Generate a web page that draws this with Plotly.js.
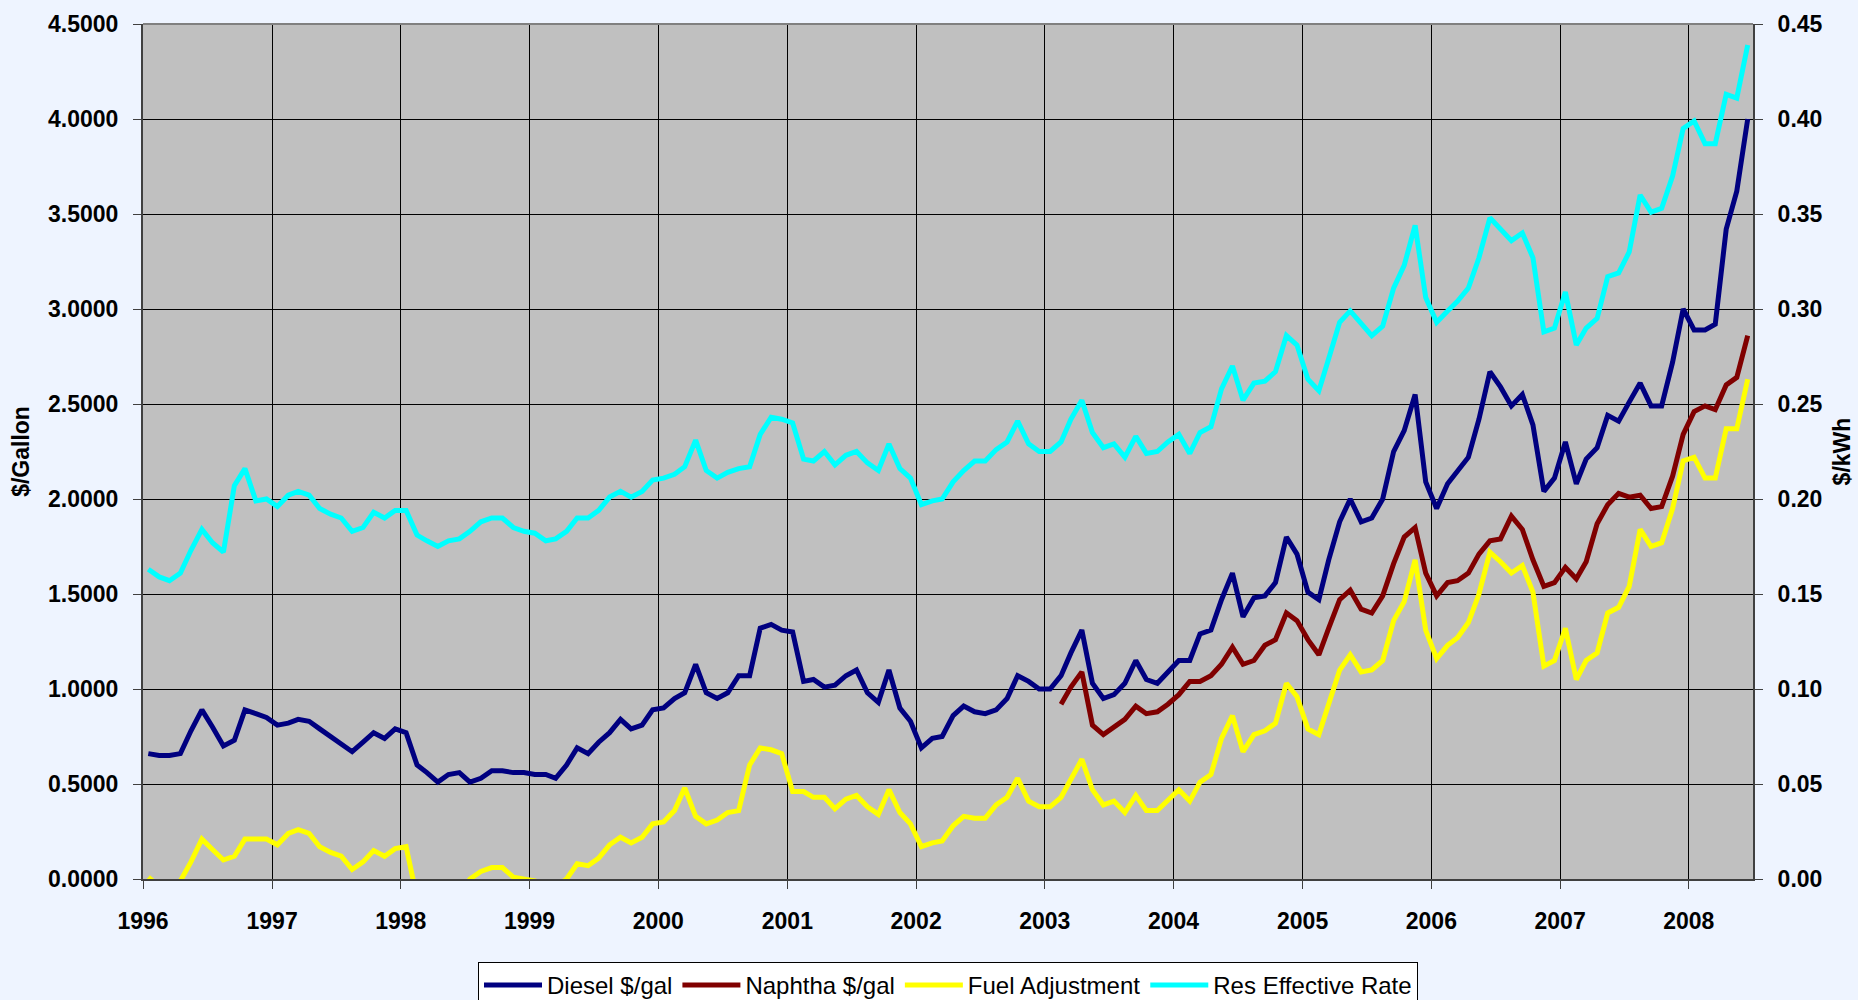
<!DOCTYPE html>
<html><head><meta charset="utf-8">
<script src="https://cdn.plot.ly/plotly-3.0.1.min.js"></script>
<style>html,body{margin:0;padding:0;background:#EEF4FF;overflow:hidden;} #chart{width:1858px;height:1000px;}</style>
</head><body><div id="chart"></div>
<script>
// Monthly series, Jan 1996 .. Jun 2008 (150 months)
const firstYear = 1996;
const monthCount = 150;

// Diesel $/gal (left axis)
const diesel = [
  0.66,0.65,0.65,0.66,0.78,0.89,0.80,0.70,0.73,0.89,0.87,0.85,
  0.81,0.82,0.84,0.83,0.79,0.75,0.71,0.67,0.72,0.77,0.74,0.79,
  0.77,0.60,0.56,0.51,0.55,0.56,0.51,0.53,0.57,0.57,0.56,0.56,
  0.55,0.55,0.53,0.60,0.69,0.66,0.72,0.77,0.84,0.79,0.81,0.89,
  0.90,0.95,0.98,1.13,0.98,0.95,0.98,1.07,1.07,1.32,1.34,1.31,
  1.30,1.04,1.05,1.01,1.02,1.07,1.10,0.98,0.93,1.10,0.90,0.83,
  0.69,0.74,0.75,0.86,0.91,0.88,0.87,0.89,0.95,1.07,1.04,1.00,
  1.00,1.07,1.19,1.31,1.03,0.95,0.97,1.03,1.15,1.05,1.03,1.09,
  1.15,1.15,1.29,1.31,1.47,1.61,1.38,1.48,1.49,1.56,1.80,1.71,
  1.51,1.47,1.68,1.88,2.00,1.88,1.90,2.00,2.25,2.36,2.55,2.09,
  1.95,2.08,2.15,2.22,2.42,2.67,2.59,2.49,2.55,2.39,2.04,2.11,
  2.30,2.08,2.21,2.27,2.44,2.41,2.51,2.61,2.49,2.49,2.72,3.00,
  2.89,2.89,2.92,3.42,3.62,4.00
];

// Naphtha $/gal (left axis), starts Feb 2003
const naphthaStartIndex = 85;
const naphtha = [
  0.92,1.01,1.09,0.81,0.76,0.80,0.84,0.91,0.87,0.88,0.92,
  0.97,1.04,1.04,1.07,1.13,1.22,1.13,1.15,1.23,1.26,1.40,1.36,
  1.26,1.18,1.32,1.47,1.52,1.42,1.40,1.49,1.66,1.80,1.85,1.61,
  1.49,1.56,1.57,1.61,1.71,1.78,1.79,1.91,1.84,1.68,1.54,1.56,
  1.64,1.58,1.67,1.87,1.97,2.03,2.01,2.02,1.95,1.96,2.12,2.34,
  2.46,2.49,2.47,2.60,2.64,2.86
];

// Fuel Adjustment $/kWh (right axis)
const fuelAdjustment = [
  0.001,-0.004,-0.006,-0.001,0.009,0.021,0.0155,0.010,0.012,0.021,0.021,0.021,
  0.018,0.024,0.026,0.024,0.017,0.014,0.012,0.005,0.009,0.015,0.012,0.016,
  0.017,-0.010,-0.015,-0.018,-0.015,-0.008,0.000,0.004,0.006,0.006,0.001,0.000,
  -0.001,-0.003,-0.004,0.000,0.008,0.007,0.011,0.018,0.022,0.019,0.022,0.029,
  0.030,0.036,0.048,0.033,0.029,0.031,0.035,0.036,0.060,0.069,0.068,0.066,
  0.046,0.046,0.043,0.043,0.037,0.042,0.044,0.038,0.034,0.047,0.035,0.029,
  0.017,0.019,0.020,0.028,0.033,0.032,0.032,0.039,0.043,0.053,0.041,0.038,
  0.038,0.043,0.053,0.063,0.047,0.039,0.041,0.035,0.044,0.036,0.036,0.041,
  0.047,0.041,0.051,0.055,0.074,0.086,0.067,0.076,0.078,0.082,0.103,0.096,
  0.079,0.076,0.092,0.110,0.118,0.109,0.110,0.115,0.136,0.146,0.168,0.131,
  0.116,0.123,0.127,0.135,0.150,0.172,0.167,0.161,0.165,0.151,0.112,0.115,
  0.132,0.105,0.115,0.119,0.140,0.143,0.154,0.184,0.175,0.177,0.195,0.220,
  0.222,0.211,0.211,0.237,0.237,0.263
];

// Res Effective Rate $/kWh (right axis)
const resEffectiveRate = [
  0.163,0.159,0.157,0.161,0.173,0.184,0.177,0.172,0.207,0.216,0.199,0.200,
  0.196,0.202,0.204,0.202,0.195,0.192,0.190,0.183,0.185,0.193,0.190,0.194,
  0.194,0.181,0.178,0.175,0.178,0.179,0.183,0.188,0.190,0.190,0.185,0.183,
  0.182,0.178,0.179,0.183,0.190,0.190,0.194,0.201,0.204,0.201,0.204,0.210,
  0.211,0.213,0.217,0.231,0.215,0.211,0.214,0.216,0.217,0.234,0.243,0.242,
  0.240,0.221,0.220,0.225,0.218,0.223,0.225,0.219,0.215,0.229,0.216,0.211,
  0.197,0.199,0.200,0.209,0.215,0.220,0.220,0.226,0.230,0.241,0.229,0.225,
  0.225,0.230,0.242,0.252,0.235,0.227,0.229,0.222,0.233,0.224,0.225,0.230,
  0.234,0.224,0.235,0.238,0.258,0.270,0.252,0.261,0.262,0.267,0.286,0.281,
  0.263,0.257,0.274,0.293,0.299,0.292,0.286,0.291,0.311,0.323,0.344,0.306,
  0.293,0.299,0.304,0.311,0.327,0.348,0.342,0.336,0.340,0.327,0.288,0.290,
  0.309,0.281,0.290,0.295,0.317,0.319,0.330,0.360,0.351,0.353,0.370,0.395,
  0.399,0.387,0.387,0.413,0.411,0.439
];

const seriesNames = ['Diesel $/gal','Naphtha $/gal','Fuel Adjustment','Res Effective Rate'];
const seriesColors = ['#000080','#800000','#FFFF00','#00FFFF'];

const months = [];
for (let i = 0; i < monthCount; i++) {
  const y = firstYear + Math.floor(i / 12);
  const m = (i % 12) + 1;
  months.push(y + '-' + String(m).padStart(2, '0') + '-16');
}

const lw = 5;
const traces = [
  {x: months, y: diesel, name: seriesNames[0], yaxis: 'y', mode: 'lines', line: {color: seriesColors[0], width: lw}},
  {x: months.slice(naphthaStartIndex, naphthaStartIndex + naphtha.length), y: naphtha, name: seriesNames[1], yaxis: 'y', mode: 'lines', line: {color: seriesColors[1], width: lw}},
  {x: months, y: fuelAdjustment, name: seriesNames[2], yaxis: 'y2', mode: 'lines', line: {color: seriesColors[2], width: lw}},
  {x: months, y: resEffectiveRate, name: seriesNames[3], yaxis: 'y2', mode: 'lines', line: {color: seriesColors[3], width: lw}}
];

const fam = '"Liberation Sans", Arial, Helvetica, sans-serif';
const tickFont = {family: fam, size: 23, color: '#000', weight: 'bold'};

const layout = {
  width: 1858, height: 1000,
  paper_bgcolor: '#EEF4FF',
  plot_bgcolor: '#C0C0C0',
  margin: {l: 143, r: 105, t: 24, b: 121, pad: 0, autoexpand: false},
  showlegend: true,
  legend: {
    orientation: 'h', x: 0.5, xanchor: 'center', y: -0.097, yanchor: 'top',
    bgcolor: '#FFFFFF', bordercolor: '#000000', borderwidth: 1,
    font: {family: fam, size: 24, color: '#000'},
    itemwidth: 58, tracegroupgap: 0
  },
  xaxis: {
    type: 'date',
    range: ['1996-01-01', '2008-07-01'],
    dtick: 'M12', tick0: '1996-01-01', tickformat: '%Y',
    showgrid: true, gridcolor: '#000000', gridwidth: 1,
    ticks: 'outside', ticklen: 8, tickcolor: '#404040', tickwidth: 1,
    showline: true, linecolor: '#404040', linewidth: 2,
    tickfont: tickFont, ticklabelstandoff: 12,
    zeroline: false
  },
  yaxis: {
    range: [0, 4.5], dtick: 0.5, tick0: 0, tickformat: '.4f',
    showgrid: true, gridcolor: '#000000', gridwidth: 1,
    ticks: 'outside', ticklen: 8, tickcolor: '#404040', tickwidth: 1,
    showline: true, linecolor: '#404040', linewidth: 2,
    tickfont: tickFont, ticklabelstandoff: 10,
    zeroline: false,
    title: {text: '$/Gallon', font: {family: fam, size: 23, color: '#000', weight: 'bold'}, standoff: 12}
  },
  yaxis2: {
    overlaying: 'y', side: 'right',
    range: [0, 0.45], dtick: 0.05, tick0: 0, tickformat: '.2f',
    showgrid: false,
    ticks: 'outside', ticklen: 8, tickcolor: '#404040', tickwidth: 1,
    showline: true, linecolor: '#404040', linewidth: 2,
    tickfont: tickFont, ticklabelstandoff: 10,
    zeroline: false,
    title: {text: '$/kWh', font: {family: fam, size: 23, color: '#000', weight: 'bold'}, standoff: 12}
  },
  shapes: [
    {type: 'line', xref: 'paper', yref: 'paper', x0: 0, x1: 1, y0: 1, y1: 1, line: {color: '#808080', width: 2}}
  ]
};

Plotly.newPlot('chart', traces, layout, {displayModeBar: false, responsive: false});
</script>
</body></html>
